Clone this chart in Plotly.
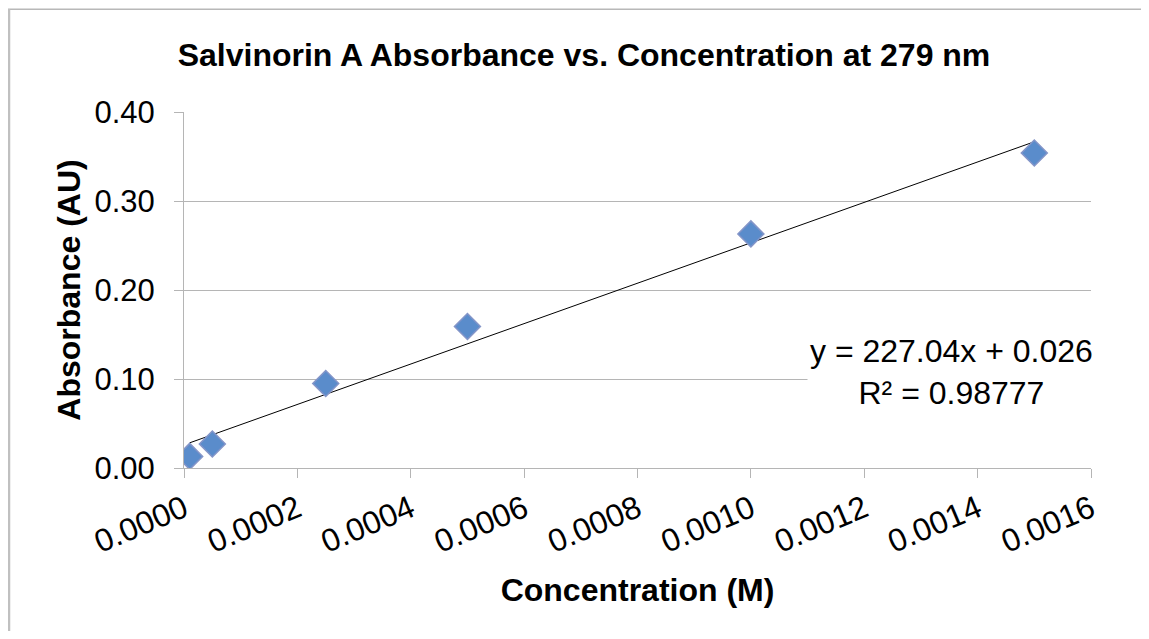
import plotly.graph_objects as go

# Data
concentration = [0.00001, 0.00005, 0.00025, 0.0005, 0.0010, 0.0015]
absorbance = [0.013, 0.027, 0.095, 0.159, 0.263, 0.354]

slope = 227.04
intercept = 0.026
r_squared = "0.98777"

x_ticks = [0.0, 0.0002, 0.0004, 0.0006, 0.0008, 0.0010, 0.0012, 0.0014, 0.0016]
y_ticks = [0.0, 0.1, 0.2, 0.3, 0.4]

# page has an 8px body margin, so the figure is placed at (8, 8)
OFF = 8
W, H = 1149 - 2 * OFF, 639 - 2 * OFF
L, T = 184 - OFF, 112 - OFF
R = W - (1091 - OFF)
B = H - (468 - OFF)
pw, ph = W - L - R, H - T - B


def px(xp):
    """page x pixel -> paper coordinate"""
    return (xp - OFF - L) / pw


def py(yp):
    """page y pixel -> paper coordinate"""
    return (H - B - (yp - OFF)) / ph


FONT = "Liberation Sans, Arial, sans-serif"
GRID = "#b5b5b5"

trend_x = [min(concentration), max(concentration)]
trend_y = [slope * v + intercept for v in trend_x]

fig = go.Figure()
fig.add_trace(go.Scatter(
    x=trend_x, y=trend_y, mode="lines",
    line=dict(color="black", width=1), showlegend=False, hoverinfo="skip"))
fig.add_trace(go.Scatter(
    x=concentration, y=absorbance, mode="markers",
    marker=dict(symbol="diamond", size=20, color="#5a8ccb",
                line=dict(color="#8495c8", width=1.5)),
    showlegend=False))

fig.update_layout(
    width=W, height=H,
    margin=dict(l=L, r=R, t=T, b=B, autoexpand=False),
    paper_bgcolor="white", plot_bgcolor="white",
    font=dict(family=FONT, size=31, color="black"),
    title=dict(text="<b>Salvinorin A Absorbance vs. Concentration at 279 nm</b>",
               x=(584 - OFF) / W, xanchor="center", xref="container",
               y=1 - (55 - OFF) / H, yanchor="middle", yref="container",
               font=dict(family=FONT, size=32, color="black")),
    xaxis=dict(range=[0, 0.0016], tickvals=x_ticks, tickformat=".4f",
               tickangle=-23, showgrid=False, zeroline=False,
               showline=True, linecolor=GRID, linewidth=1,
               ticks="outside", ticklen=9, tickcolor=GRID,
               tickfont=dict(size=32),
               title=dict(text="<b>Concentration (M)</b>", standoff=19,
                          font=dict(size=32))),
    yaxis=dict(range=[0, 0.4], tickvals=y_ticks, tickformat=".2f",
               showgrid=True, gridcolor=GRID, gridwidth=1, zeroline=False,
               showline=True, linecolor=GRID, linewidth=1,
               ticks="outside", ticklen=9, tickcolor=GRID,
               ticklabelstandoff=13, tickfont=dict(size=31),
               title=dict(text="<b>Absorbance (AU)</b>", standoff=4,
                          font=dict(size=32))),
)

eq_text = f"y = {slope:.2f}x + {intercept:.3f}<br>R² = {r_squared}"
fig.add_annotation(
    xref="paper", yref="paper", x=px(951), y=py(372),
    text=eq_text, showarrow=False, align="center",
    xanchor="center", yanchor="middle",
    font=dict(family=FONT, size=32, color="black"),
    bgcolor="white", borderpad=2)

# chart-area border (top and left edges visible in reference)
fig.add_shape(type="line", xref="paper", yref="paper",
              x0=px(8), x1=px(1160), y0=py(9.3), y1=py(9.3),
              line=dict(color="#b8b8b8", width=1.5))
fig.add_shape(type="line", xref="paper", yref="paper",
              x0=px(9), x1=px(9), y0=py(9), y1=py(660),
              line=dict(color="#c0c0c0", width=2.5))

fig.write_html("out.html")
